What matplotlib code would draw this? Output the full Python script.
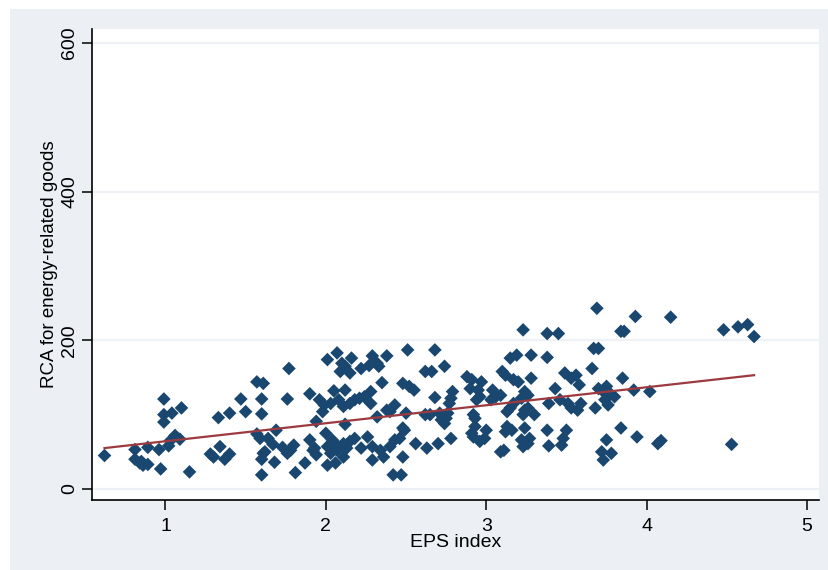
"""Scatter of RCA for energy-related goods against the EPS index,
with a linear fit line (Stata s2color look).
"""
import numpy as np
import matplotlib
matplotlib.use("Agg")
import matplotlib.pyplot as plt
from matplotlib.patches import Rectangle

plt.rcParams["font.family"] = ["Liberation Sans", "DejaVu Sans"]

# EPS index, RCA pairs (one entry per country-year observation)
eps = [
    0.62, 0.81, 0.89, 0.96, 0.81, 0.84, 0.86, 0.89, 0.85, 0.97, 1.15,
    0.99, 0.99, 0.99, 1.04, 1.10, 1.02, 1.06, 1.09, 1.03, 1.33, 1.40,
    1.28, 1.30, 1.34, 1.37, 1.40, 1.47, 1.50,
    1.57, 1.61, 1.60, 1.60, 1.77, 1.76, 1.90, 1.69, 1.57, 1.59, 1.64,
    1.67, 1.73, 1.76, 1.80, 1.61, 1.62, 1.60, 1.68, 1.60, 1.81, 1.87,
    1.90, 1.92, 1.94, 1.94, 1.78,
    1.96, 1.99, 1.98, 2.03, 2.08, 2.11, 2.15, 2.18, 2.21, 2.24, 2.28,
    2.28, 2.01, 2.07, 2.16, 2.15, 2.12, 2.10, 2.09, 2.22, 2.29, 2.33,
    2.38, 2.32, 2.35, 2.05, 2.12, 2.12, 2.32, 2.38, 2.43, 2.49, 1.93,
    2.01, 2.05, 2.08, 2.11, 2.15, 2.18, 2.03, 2.07, 2.13, 2.01, 2.06,
    2.11, 2.22, 2.26, 2.29, 2.34, 2.36, 2.40, 2.43, 2.46, 2.29, 2.48,
    2.42, 2.47, 2.00, 2.04,
    2.27, 2.51, 2.68, 2.62, 2.66, 2.74, 2.48, 2.52, 2.55, 2.68, 2.79,
    2.78, 2.77, 2.88, 2.91, 2.97, 2.90, 2.95, 2.96, 2.94, 3.04, 3.06,
    3.03, 3.10, 2.40, 2.50, 2.62, 2.65, 2.71, 2.73, 2.75, 2.76, 2.72,
    2.74, 2.48, 2.56, 2.63, 2.70, 2.78, 2.93, 2.91, 2.92, 2.96, 2.99,
    2.92, 2.93, 3.00,
    3.09, 3.11, 3.23, 3.38, 3.45, 3.15, 3.19, 3.28, 3.38, 3.12, 3.17,
    3.20, 3.28, 3.49, 3.53, 3.56, 3.58, 3.43, 3.24, 3.26, 3.22, 3.09,
    3.17, 3.15, 3.13, 3.24, 3.23, 3.26, 3.30, 3.39, 3.46, 3.51, 3.53,
    3.59, 3.57, 3.13, 3.16, 3.12, 3.24, 3.38, 3.50, 3.48, 3.47, 3.22,
    3.23, 3.26, 3.27, 3.39,
    3.69, 3.84, 3.86, 3.93, 3.67, 3.70, 3.66, 3.85, 3.70, 3.73, 3.75,
    3.77, 3.80, 3.74, 3.76, 3.68, 3.92, 3.84, 3.75, 3.72, 3.73, 3.78,
    3.94, 4.15, 4.48, 4.57, 4.63, 4.67, 4.02, 4.07, 4.09, 4.53,
]
rca = [
    45, 53, 56, 53, 40, 35, 32, 33, 37, 27, 23,
    121, 100, 90, 102, 109, 58, 72, 67, 65, 96, 102,
    47, 43, 57, 40, 47, 121, 104,
    144, 142, 121, 101, 162, 121, 128, 79, 74, 68, 68,
    60, 56, 48, 59, 48, 50, 40, 36, 19, 22, 35,
    66, 52, 46, 91, 52,
    120, 113, 104, 115, 120, 111, 115, 120, 122, 124, 131,
    115, 174, 183, 176, 156, 165, 169, 158, 162, 179, 165,
    179, 169, 143, 132, 133, 87, 97, 106, 113, 79, 55,
    57, 61, 57, 61, 64, 68, 48, 52, 55, 32, 35,
    43, 55, 70, 57, 52, 43, 57, 66, 68, 39, 43,
    19, 19, 75, 66,
    166, 187, 187, 158, 158, 165, 142, 138, 133, 123, 131,
    122, 115, 151, 147, 144, 135, 133, 124, 120, 133, 124,
    120, 158, 104, 102, 100, 100, 102, 97, 95, 102, 93,
    88, 82, 61, 55, 61, 68, 84, 75, 70, 64, 68,
    100, 95, 79,
    50, 52, 214, 209, 209, 176, 180, 180, 177, 153, 147,
    144, 149, 156, 149, 153, 140, 135, 131, 126, 122, 126,
    115, 109, 104, 106, 100, 109, 100, 115, 120, 115, 109,
    115, 106, 84, 79, 77, 82, 79, 79, 68, 59, 66,
    57, 61, 68, 58,
    243, 212, 212, 232, 189, 189, 162, 149, 135, 131, 138,
    129, 124, 120, 113, 109, 133, 82, 66, 50, 39, 48,
    70, 231, 214, 218, 221, 205, 131, 61, 65, 60,
]

# linear fit shown on the chart
fit_intercept = 40.0
fit_slope = 24.2

y_ticks = [0, 200, 400, 600]
x_ticks = [1, 2, 3, 4, 5]

navy = "#1A476F"
maroon = "#9C3A40"
bg = "#ECF0F5"

fig = plt.figure(figsize=(8.29, 5.70), dpi=100)
fig.patch.set_facecolor("white")
# light bluish-gray graph region, leaving a thin white strip top and left
fig.add_artist(Rectangle((10 / 829, 0), 1, 1 - 9 / 570, transform=fig.transFigure,
                         facecolor=bg, edgecolor="none", zorder=0))

ax = fig.add_axes([92 / 829, 70 / 570, 727 / 829, 471 / 570])
ax.set_facecolor("white")
ax.set_zorder(1)

ax.scatter(eps, rca, marker="D", s=48, color=navy, edgecolors="none", zorder=3)

xs = np.array([min(eps), max(eps)])
ax.plot(xs, fit_intercept + fit_slope * xs, color=maroon, linewidth=1.6, zorder=4)

ax.set_xlim(0.542, 5.075)
ax.set_ylim(-14.8, 618.5)

ax.set_yticks(y_ticks)
ax.set_xticks(x_ticks)
ax.set_yticklabels([str(v) for v in y_ticks], rotation=90, va="center")
ax.tick_params(axis="both", direction="out", length=7, width=1.1,
               color="black", labelsize=14)
ax.tick_params(axis="x", pad=6)
ax.tick_params(axis="y", pad=3)

for v in y_ticks:
    ax.axhline(v, color="#EEF2F7", linewidth=1.6, zorder=1)

for side in ("top", "right"):
    ax.spines[side].set_visible(False)
for side in ("left", "bottom"):
    ax.spines[side].set_linewidth(1.2)
    ax.spines[side].set_color("black")

ax.set_xlabel("EPS index", fontsize=14, labelpad=-1)
ax.set_ylabel("RCA for energy-related goods", fontsize=13.5, labelpad=2)

fig.savefig("out.png", dpi=100, facecolor=fig.get_facecolor())
